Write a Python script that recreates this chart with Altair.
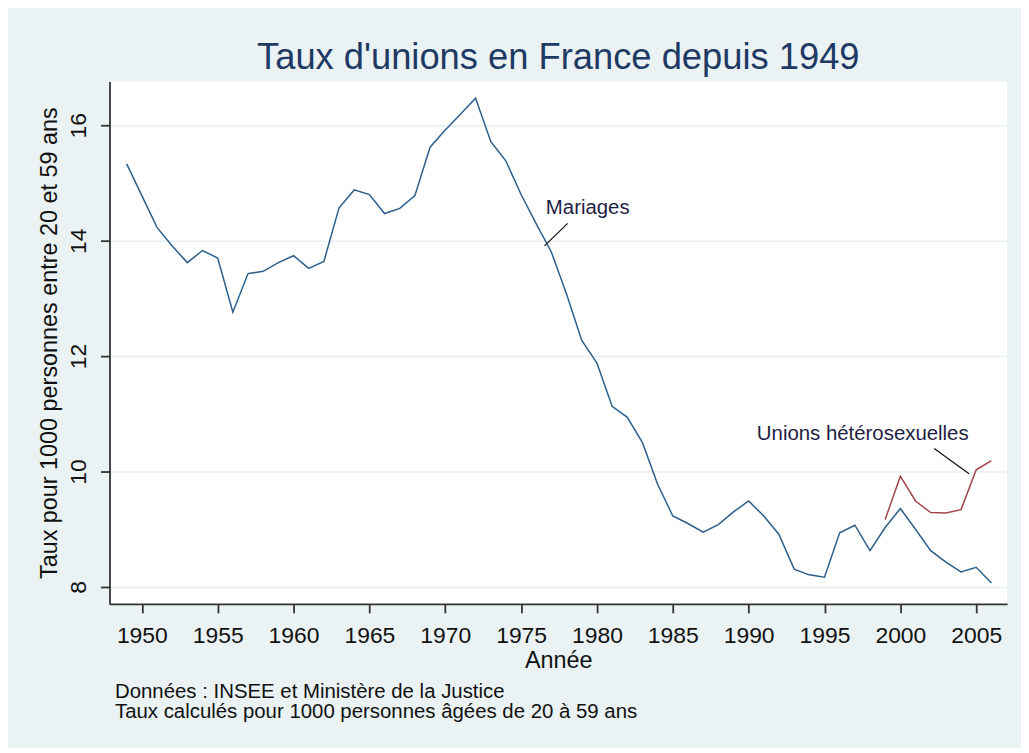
import altair as alt
import pandas as pd

# ---- data ----
years = list(range(1949, 2007))
mariages = [15.33, 14.78, 14.23, 13.91, 13.62, 13.83, 13.70, 12.76, 13.43, 13.47,
            13.62, 13.74, 13.52, 13.64, 14.57, 14.88, 14.80, 14.47, 14.56, 14.78,
            15.62, 15.92, 16.19, 16.47, 15.72, 15.38, 14.80, 14.29, 13.80, 13.07,
            12.27, 11.88, 11.13, 10.94, 10.50, 9.78, 9.23, 9.10, 8.95, 9.08,
            9.30, 9.49, 9.23, 8.91, 8.31, 8.21, 8.17, 8.94, 9.07, 8.63,
            9.03, 9.36, 9.00, 8.63, 8.43, 8.26, 8.34, 8.07]
union_years = list(range(1999, 2007))
unions = [9.17, 9.92, 9.49, 9.29, 9.28, 9.34, 10.03, 10.19]

series_names = ["Mariages", "Unions hétérosexuelles"]
series_colors = ["#2c5f8c", "#a0444b"]

label_texts = ["Mariages", "Unions hétérosexuelles"]
label_x = [1976.63, 1990.54]
label_y = [14.47, 10.54]

conn_x1 = [1976.54, 2002.23]
conn_y1 = [13.91, 10.40]
conn_x2 = [1978.07, 2004.53]
conn_y2 = [14.30, 9.96]

x_ticks = list(range(1950, 2010, 5))
y_ticks = [8, 10, 12, 14, 16]
x_domain = [1947.868, 2007.035]
y_domain = [7.707, 16.759]

title_text = "Taux d'unions en France depuis 1949"
x_title = "Année"
y_title = "Taux pour 1000 personnes entre 20 et 59 ans"
footer_lines = ["Données : INSEE et Ministère de la Justice",
                "Taux calculés pour 1000 personnes âgées de 20 à 59 ans"]

FONT = "Liberation Sans"

# ---- tables ----
df = pd.DataFrame({
    "annee": years + union_years,
    "taux": mariages + unions,
    "serie": [series_names[0]] * len(years) + [series_names[1]] * len(union_years),
})
lab_df = pd.DataFrame({"annee": label_x, "taux": label_y, "txt": label_texts})
conn_df = pd.DataFrame({"x1": conn_x1, "y1": conn_y1, "x2": conn_x2, "y2": conn_y2})
foot_df = pd.DataFrame({"k": [0]})

x_scale = alt.Scale(domain=x_domain, nice=False, zero=False)
y_scale = alt.Scale(domain=y_domain, nice=False, zero=False)

x_axis = alt.Axis(values=x_ticks, format="d", title=x_title, grid=False,
                  tickSize=9, labelPadding=29.8, labelBaseline="alphabetic",
                  labelFontSize=23, labelFont=FONT, labelColor="#111111",
                  titleFontSize=23.5, titleFont=FONT, titleFontWeight="normal",
                  titleColor="#111111", titleBaseline="alphabetic", titleY=64,
                  domainColor="#333333", domainWidth=1.8, tickColor="#333333",
                  tickWidth=1.8, labelFlush=False, labelOverlap=False)
y_axis = alt.Axis(values=y_ticks, format="d", title=y_title, grid=True,
                  gridColor="#e8f0f1", gridWidth=1.5,
                  tickSize=9, labelPadding=15.5, labelAngle=270,
                  labelAlign="center", labelBaseline="alphabetic",
                  labelFontSize=23, labelFont=FONT, labelColor="#111111",
                  titleFontSize=23.5, titleFont=FONT, titleFontWeight="normal",
                  titleColor="#111111", titleAngle=270, titleAlign="center",
                  titleBaseline="alphabetic", titleX=-53.5, titleY=262.5,
                  domainColor="#333333", domainWidth=1.8, tickColor="#333333",
                  tickWidth=1.8, labelFlush=False, labelOverlap=False)

lines = alt.Chart(df).mark_line(strokeWidth=1.5).encode(
    x=alt.X("annee:Q", scale=x_scale, axis=x_axis),
    y=alt.Y("taux:Q", scale=y_scale, axis=y_axis),
    color=alt.Color("serie:N", scale=alt.Scale(domain=series_names, range=series_colors),
                    legend=None),
    detail="serie:N",
)

connectors = alt.Chart(conn_df).mark_rule(color="#111111", strokeWidth=1.2).encode(
    x=alt.X("x1:Q", scale=x_scale, axis=x_axis),
    y=alt.Y("y1:Q", scale=y_scale, axis=y_axis),
    x2="x2:Q", y2="y2:Q",
)

labels = alt.Chart(lab_df).mark_text(
    align="left", baseline="alphabetic", font=FONT, fontSize=20.5, color="#1e1e44"
).encode(
    x=alt.X("annee:Q", scale=x_scale, axis=x_axis),
    y=alt.Y("taux:Q", scale=y_scale, axis=y_axis),
    text="txt:N",
)

footer = alt.Chart(foot_df).mark_text(
    align="left", baseline="alphabetic", font=FONT, fontSize=20.5, color="#111111",
    text=footer_lines, lineHeight=20
).encode(
    x=alt.value(5.5),
    y=alt.value(619.3),
)

chart = alt.layer(lines, connectors, labels, footer).properties(
    width=902, height=525,
    title=alt.TitleParams(title_text, fontSize=36.5, font=FONT, fontWeight="normal",
                          color="#1e3a64", anchor="middle", baseline="alphabetic",
                          offset=-24),
    autosize=alt.AutoSizeParams(type="none"),
    padding={"left": 102, "top": 72, "right": 14, "bottom": 143},
    background="#eaf2f3",
).configure_view(stroke=None, fill="white")

chart.save("out.html", embed_options={"renderer": "svg", "actions": False})
